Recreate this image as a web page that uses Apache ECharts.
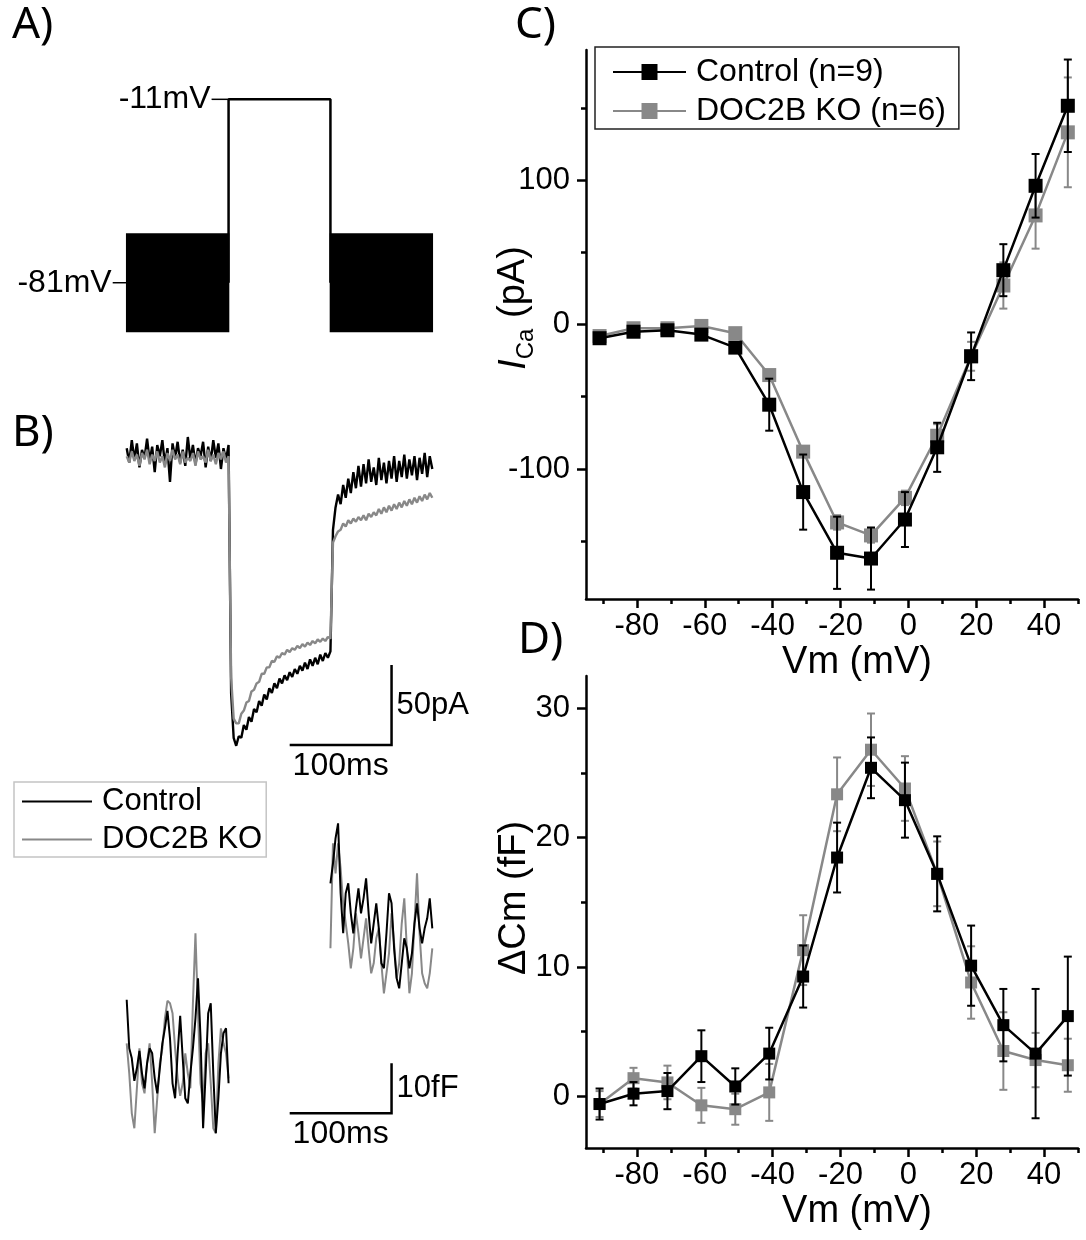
<!DOCTYPE html>
<html><head><meta charset="utf-8">
<script src="https://cdn.jsdelivr.net/npm/echarts@6/dist/echarts.min.js"></script>
<style>html,body{margin:0;padding:0;background:#fff}#chart{width:1086px;height:1240px}</style>
</head><body><div id="chart"></div>
<script>
// ===== Panel C / D : I-V and ΔCm-V data =====
const vm = [-91,-81,-71,-61,-51,-41,-31,-21,-11,-1,8.5,18.5,28,37.5,47];
const icaControl    = [-9.5,-5,-4,-7,-16,-55.5,-116,-158,-162,-135,-85,-22,37.6,96,151.4];
const icaControlErr = [3,3,3,3,3,18,26,25,21.5,19,17,16.5,18,22,32];
const icaKO         = [-8,-2.6,-2.6,-1,-6,-35,-88,-137,-146,-120,-77,-22,27,75.5,133];
const icaKOErr      = [3,3,3,3,3,3,3,5,5,5,8,10,16,23,38];
const dcmControl    = [-0.6,0.2,0.4,3.1,0.76,3.3,9.26,18.46,25.4,22.9,17.2,10.1,5.5,3.3,6.2];
const dcmControlErr = [1.2,0.9,1.4,2,1.4,2,2.4,2.7,2.35,2.9,2.9,3.1,2.8,5,4.6];
const dcmKO         = [-0.6,1.4,1.07,-0.7,-1.0,0.3,11.3,23.35,26.8,23.8,17.2,8.8,3.5,2.8,2.4];
const dcmKOErr      = [1,0.8,1.3,1.35,1.2,2.2,2.7,2.85,2.8,2.5,2.5,2.8,3,2.1,2.05];

// tick values
const vmTicks = [-80,-60,-40,-20,0,20,40];
const vmMinorTicks = [-90,-70,-50,-30,-10,10,30,50];
const icaTicks = [-100,0,100];
const icaMinorTicks = [-150,-50,50,150];
const dcmTicks = [0,10,20,30];
const dcmMinorTicks = [5,15,25];

// ===== Panel A : voltage protocol (ms, mV) =====
const protoHold = -81;
const protoStep = -11;
const protoSineAmp = 18.6;
const protoSineWindows = [[0,100],[200,300]];
const protoStepLine = [[100,-81],[100,-11],[200,-11],[200,-81]];
const protoLabelPts = [[0,-81],[100,-11]];
const protoLabelText = ['-81mV','-11mV'];

// ===== Panel B : example current traces (pA), sampled every 2.5 ms =====
const iPreControl  = [3,-6,8,-4,6,-9,2,-3,9,-5,4,-12,5,-2,8,-7,3,-18,6,-3,7,-6,2,-8,10,-4,5,-7,3,-2,7,-9,4,-5,8,-3,6,-10,3,-4,5];
const iPreKO       = [-2,-6,1,-5,-1,-8,0,-4,2,-7,-1,-5,1,-6,-2,-9,0,-5,2,-4,-1,-7,1,-6,-3,-5,0,-8,1,-4,-2,-6,2,-5,-1,-7,0,-4,1,-6,-2];
const iStepControl = [-150,-178,-183,-177,-178,-170,-173,-165,-168,-160,-162,-155,-158,-151,-154,-147,-150,-144,-147,-141,-144,-139,-142,-137,-140,-135,-138,-133,-136,-131,-135,-129,-133,-128,-132,-126,-130,-125,-128,-124];
const iStepKO      = [-140,-166,-169,-169,-163,-161,-156,-155,-149,-148,-144,-143,-138,-138,-134,-134,-130,-130.5,-127,-128,-125,-126,-123,-124.5,-122,-123,-120.5,-122,-119.5,-121,-118.5,-120,-117.5,-119,-116.5,-118,-116,-117.5,-115,-116];
const iTailControl = [-48,-34,-26,-32,-20,-28,-16,-25,-12,-22,-8,-21,-7,-19,-4,-18,-9,-20,-3,-17,-6,-19,-5,-16,-2,-18,-5,-15,-1,-16,-4,-14,-2,-17,-3,-13,0,-15,-2,-10];
const iTailKO      = [-56,-52,-49,-48,-44,-46,-42,-44,-41,-43,-40,-42,-39,-42,-38,-40,-37,-39,-35,-38,-34,-37,-33,-36,-32,-35,-31,-34,-30,-33,-29,-32,-28,-31,-27,-30,-26,-29,-25,-28];

// ===== Panel B : example capacitance traces (fF), sampled every 2.5 ms =====
const cPreControl  = [22.7,13,11,6.5,9,12.5,8,5,10,13,12,7,4,9,14,17,20.5,15,6,3,12,19.5,11,3,2,8,13,19,27,15,-3,8,20,22,8,-4,3,12,16,17,6];
const cPreKO       = [14,8,0,-3,5,13,6,4,10,14,6,-4,3,10,13,19,22.5,22,20,13,7,3.5,6,12,8,5,22,36,20,6,2,12,14,6,-3,-4,10,17,14,12,7];
const cPostControl = [46,50,55,58,44,36,44,46,40,36,41,45,40,43,47,40,34,38,42,37,30,29,36,44,42,33,27,25,30,35,33,29,32,38,42,37,34,37,39,43,37];
const cPostKO      = [33,54,48,54,49,42,38,34,29,33,40,36,31,35,39,33,28,30,35,37,30,24,28,32,40,34,27,30,38,43,33,24,28,38,48,36,28,26,25,28,33];

// scale bars: [tStart, tEnd, yBase, yTop]
const currentScaleBar = [[160,260,-182.5,-132.5]];
const currentScaleText = ['100ms','50pA'];
const capScaleBar = [[160,260,0,10]];
const capScaleText = ['100ms','10fF'];

const FONT = "'Liberation Sans', Arial, Helvetica, sans-serif";
const BLACK = '#000000', GRAY = '#888888';

function seq(start, step, n){ const a=[]; for(let i=0;i<n;i++) a.push(+(start+i*step).toFixed(2)); return a; }
function pair(xs, ys){ return xs.map((x,i)=>[x, ys[i]]); }
function errData(xs, ys, es){ return xs.map((x,i)=>[x, ys[i]-es[i], ys[i]+es[i]]); }

const tPre = seq(0,2.5,41), tStep = seq(102.5,2.5,40), tTail = seq(202.5,2.5,40);
const tCapPre = seq(0,2.5,41), tCapPost = seq(200,2.5,41);

function errorBarRender(color, cap){
  return function(params, api){
    const x = api.value(0), lo = api.value(1), hi = api.value(2);
    const a = api.coord([x, lo]), b = api.coord([x, hi]);
    const st = {stroke: color, lineWidth: 2};
    return {type:'group', children:[
      {type:'line', shape:{x1:a[0],y1:a[1],x2:b[0],y2:b[1]}, style:st},
      {type:'line', shape:{x1:a[0]-cap,y1:a[1],x2:a[0]+cap,y2:a[1]}, style:st},
      {type:'line', shape:{x1:b[0]-cap,y1:b[1],x2:b[0]+cap,y2:b[1]}, style:st}
    ]};
  };
}
function scaleBarRender(texts){
  return function(params, api){
    const t0 = api.value(0), t1 = api.value(1), y0 = api.value(2), y1 = api.value(3);
    const p0 = api.coord([t0,y0]), p1 = api.coord([t1,y0]), p2 = api.coord([t1,y1]);
    return {type:'group', children:[
      {type:'polyline', shape:{points:[p0,p1,p2]}, style:{stroke:BLACK, lineWidth:2.5, fill:null}},
      {type:'text', x:(p0[0]+p1[0])/2, y:p0[1]+5, style:{text:texts[0], fontSize:32, fontFamily:FONT, fill:BLACK, align:'center', verticalAlign:'top'}},
      {type:'text', x:p1[0]+5, y:(p1[1]+p2[1])/2, style:{text:texts[1], fontSize:31, fontFamily:FONT, fill:BLACK, align:'left', verticalAlign:'middle'}}
    ]};
  };
}

function mainX(grid, name){
  return {type:'value', gridIndex:grid, min:-95, max:50, position:'bottom',
    axisLine:{show:true, onZero:false, lineStyle:{color:BLACK, width:2.5}},
    axisTick:{show:true, inside:false, length:9, customValues:vmTicks, lineStyle:{color:BLACK, width:2.5}},
    axisLabel:{show:true, customValues:vmTicks, margin:12, color:BLACK, fontSize:31, fontFamily:FONT},
    splitLine:{show:false},
    name:name, nameLocation:'middle', nameGap:45, nameMoveOverlap:false,
    nameTextStyle:{fontSize:38, fontFamily:FONT, color:BLACK, padding:[0,0,0,50]}};
}
function minorX(grid){
  return {type:'value', gridIndex:grid, min:-95, max:50, position:'bottom',
    axisLine:{show:false, onZero:false},
    axisTick:{show:true, inside:false, length:5, customValues:vmMinorTicks, lineStyle:{color:BLACK, width:2.5}},
    axisLabel:{show:false}, splitLine:{show:false}};
}
function mainY(grid, min, max, ticks, name, nameGap, padLeft, rich){
  return {type:'value', gridIndex:grid, min:min, max:max, position:'left',
    axisLine:{show:true, onZero:false, lineStyle:{color:BLACK, width:2.5}},
    axisTick:{show:true, inside:false, length:9, customValues:ticks, lineStyle:{color:BLACK, width:2.5}},
    axisLabel:{show:true, customValues:ticks, margin:16, color:BLACK, fontSize:31, fontFamily:FONT},
    splitLine:{show:false},
    name:name, nameLocation:'middle', nameGap:nameGap, nameMoveOverlap:false,
    nameTextStyle:Object.assign({fontSize:38, fontFamily:FONT, color:BLACK, padding:[0,0,0,padLeft]}, rich ? {rich:rich} : {})};
}
function minorY(grid, min, max, ticks){
  return {type:'value', gridIndex:grid, min:min, max:max, position:'left',
    axisLine:{show:false, onZero:false},
    axisTick:{show:true, inside:false, length:5, customValues:ticks, lineStyle:{color:BLACK, width:2.5}},
    axisLabel:{show:false}, splitLine:{show:false}};
}
function hiddenAxis(grid, min, max){
  return {type:'value', gridIndex:grid, min:min, max:max, show:false,
    axisLine:{onZero:false}, splitLine:{show:false}};
}

const icaRich = {
  i:{fontSize:38, fontStyle:'italic', fontFamily:FONT, color:BLACK, verticalAlign:'top', lineHeight:38},
  s:{fontSize:24, fontFamily:FONT, color:BLACK, verticalAlign:'top', lineHeight:24, padding:[19,0,0,0]},
  t:{fontSize:38, fontFamily:FONT, color:BLACK, verticalAlign:'top', lineHeight:38}
};

const LETTER_FONT = "'Noto Sans', sans-serif";

const option = {
  animation:false,
  backgroundColor:'#ffffff',
  textStyle:{fontFamily:FONT},
  grid:[
    {left:586, top:50, width:492, height:549, outerBoundsMode:'none'},      // C
    {left:586, top:676, width:492, height:472, outerBoundsMode:'none'},     // D
    {left:126.7, top:83.6, width:305.6, height:262, outerBoundsMode:'none'},// A
    {left:126.7, top:421, width:305.6, height:352, outerBoundsMode:'none'}, // B current
    {left:126.7, top:803.3, width:305.6, height:360, outerBoundsMode:'none'}// B capacitance
  ],
  xAxis:[
    mainX(0,'Vm (mV)'), minorX(0),
    mainX(1,'Vm (mV)'), minorX(1),
    hiddenAxis(2,0,300), hiddenAxis(3,0,300), hiddenAxis(4,0,300)
  ],
  yAxis:[
    mainY(0,-190,190,icaTicks,'{i|I}{s|Ca}{t| (pA)}',53,33,icaRich), minorY(0,-190,190,icaMinorTicks),
    mainY(1,-4,32.5,dcmTicks,'ΔCm (fF)',52,28,null), minorY(1,-4,32.5,dcmMinorTicks),
    hiddenAxis(2,-105,-5), hiddenAxis(3,-200,20), hiddenAxis(4,-10,62)
  ],
  legend:[
    {data:['Control (n=9)','DOC2B KO (n=6)'], orient:'vertical', left:595, top:47,
     padding:[9,13,2,17], itemGap:7, itemWidth:73, itemHeight:20,
     borderColor:'#222', borderWidth:1.5, selectedMode:false,
     textStyle:{fontSize:32, fontFamily:FONT, color:BLACK, lineHeight:32, padding:[0,0,0,5]}},
    {data:[{name:'Control', icon:'rect'},{name:'DOC2B KO', icon:'rect'}], orient:'vertical', left:14, top:782,
     padding:[4,4,2,8], itemGap:7, itemWidth:70, itemHeight:2,
     borderColor:'#c4c4c4', borderWidth:1.5, selectedMode:false,
     textStyle:{fontSize:31, fontFamily:FONT, color:BLACK, lineHeight:31, padding:[0,0,0,5]}}
  ],
  graphic:[
    {type:'text', left:12, top:3, style:{text:'A)', fontSize:44, fontFamily:LETTER_FONT, fill:BLACK}},
    {type:'text', left:12, top:411, style:{text:'B)', fontSize:44, fontFamily:LETTER_FONT, fill:BLACK}},
    {type:'text', left:515, top:3, style:{text:'C)', fontSize:44, fontFamily:LETTER_FONT, fill:BLACK}},
    {type:'text', left:518, top:618, style:{text:'D)', fontSize:44, fontFamily:LETTER_FONT, fill:BLACK}}
  ],
  series:[
    // ---- C ----
    {name:'Control (n=9)', type:'line', xAxisIndex:0, yAxisIndex:0, data:pair(vm, icaControl),
     symbol:'rect', symbolSize:14, lineStyle:{color:BLACK, width:2.5}, itemStyle:{color:BLACK}, z:4, silent:true},
    {name:'DOC2B KO (n=6)', type:'line', xAxisIndex:0, yAxisIndex:0, data:pair(vm, icaKO),
     symbol:'rect', symbolSize:14, lineStyle:{color:GRAY, width:2.5}, itemStyle:{color:GRAY}, z:2, silent:true},
    {type:'custom', xAxisIndex:0, yAxisIndex:0, data:errData(vm, icaControl, icaControlErr), encode:{x:0, y:[1,2]},
     renderItem:errorBarRender(BLACK,4), z:3, silent:true},
    {type:'custom', xAxisIndex:0, yAxisIndex:0, data:errData(vm, icaKO, icaKOErr), encode:{x:0, y:[1,2]},
     renderItem:errorBarRender(GRAY,4), z:1, silent:true},
    // ---- D ----
    {name:'Control (n=9)', type:'line', xAxisIndex:2, yAxisIndex:2, data:pair(vm, dcmControl),
     symbol:'rect', symbolSize:12, lineStyle:{color:BLACK, width:2.5}, itemStyle:{color:BLACK}, z:4, silent:true},
    {name:'DOC2B KO (n=6)', type:'line', xAxisIndex:2, yAxisIndex:2, data:pair(vm, dcmKO),
     symbol:'rect', symbolSize:12, lineStyle:{color:GRAY, width:2.5}, itemStyle:{color:GRAY}, z:2, silent:true},
    {type:'custom', xAxisIndex:2, yAxisIndex:2, data:errData(vm, dcmControl, dcmControlErr), encode:{x:0, y:[1,2]},
     renderItem:errorBarRender(BLACK,4), z:3, silent:true},
    {type:'custom', xAxisIndex:2, yAxisIndex:2, data:errData(vm, dcmKO, dcmKOErr), encode:{x:0, y:[1,2]},
     renderItem:errorBarRender(GRAY,4), z:1, silent:true},
    // ---- A : protocol ----
    {type:'custom', xAxisIndex:4, yAxisIndex:4,
     data:protoSineWindows.map(w=>[w[0], w[1], protoHold-protoSineAmp, protoHold+protoSineAmp]),
     encode:{x:[0,1], y:[2,3]}, silent:true,
     renderItem:function(params, api){
       const a = api.coord([api.value(0), api.value(3)]), b = api.coord([api.value(1), api.value(2)]);
       return {type:'rect', shape:{x:a[0], y:a[1], width:b[0]-a[0], height:b[1]-a[1]}, style:{fill:BLACK, stroke:BLACK, lineWidth:1.5}};
     }},
    {type:'line', xAxisIndex:4, yAxisIndex:4, data:protoStepLine, symbol:'none',
     lineStyle:{color:BLACK, width:2.5}, silent:true},
    {type:'custom', xAxisIndex:4, yAxisIndex:4, data:protoLabelPts, encode:{x:0, y:1}, silent:true,
     renderItem:function(params, api){
       const p = api.coord([api.value(0), api.value(1)]);
       const len = params.dataIndex === 0 ? 14 : 17;
       return {type:'group', children:[
         {type:'line', shape:{x1:p[0]-len, y1:p[1], x2:p[0], y2:p[1]}, style:{stroke:BLACK, lineWidth:1.5}},
         {type:'text', x:p[0]-len-1, y:p[1], style:{text:protoLabelText[params.dataIndex], fontSize:32, fontFamily:FONT, fill:BLACK, align:'right', verticalAlign:'middle'}}
       ]};
     }},
    // ---- B : currents ----
    {name:'Control', type:'line', xAxisIndex:5, yAxisIndex:5,
     data:pair(tPre, iPreControl).concat(pair(tStep, iStepControl), pair(tTail, iTailControl)),
     symbol:'none', lineStyle:{color:BLACK, width:2.4}, itemStyle:{color:BLACK}, z:2, silent:true},
    {name:'DOC2B KO', type:'line', xAxisIndex:5, yAxisIndex:5,
     data:pair(tPre, iPreKO).concat(pair(tStep, iStepKO), pair(tTail, iTailKO)),
     symbol:'none', lineStyle:{color:GRAY, width:2.4}, itemStyle:{color:GRAY}, z:3, silent:true},
    {type:'custom', xAxisIndex:5, yAxisIndex:5, data:currentScaleBar, encode:{x:[0,1], y:[2,3]}, silent:true,
     renderItem:scaleBarRender(currentScaleText)},
    // ---- B : capacitance ----
    {name:'Control', type:'line', xAxisIndex:6, yAxisIndex:6, data:pair(tCapPre, cPreControl),
     symbol:'none', lineStyle:{color:BLACK, width:2}, itemStyle:{color:BLACK}, z:3, silent:true},
    {name:'DOC2B KO', type:'line', xAxisIndex:6, yAxisIndex:6, data:pair(tCapPre, cPreKO),
     symbol:'none', lineStyle:{color:GRAY, width:2}, itemStyle:{color:GRAY}, z:2, silent:true},
    {name:'Control', type:'line', xAxisIndex:6, yAxisIndex:6, data:pair(tCapPost, cPostControl),
     symbol:'none', lineStyle:{color:BLACK, width:2}, itemStyle:{color:BLACK}, z:3, silent:true},
    {name:'DOC2B KO', type:'line', xAxisIndex:6, yAxisIndex:6, data:pair(tCapPost, cPostKO),
     symbol:'none', lineStyle:{color:GRAY, width:2}, itemStyle:{color:GRAY}, z:2, silent:true},
    {type:'custom', xAxisIndex:6, yAxisIndex:6, data:capScaleBar, encode:{x:[0,1], y:[2,3]}, silent:true,
     renderItem:scaleBarRender(capScaleText)}
  ]
};

const chart = echarts.init(document.getElementById('chart'), null, {renderer:'canvas'});
chart.setOption(option);
</script>
</body></html>
